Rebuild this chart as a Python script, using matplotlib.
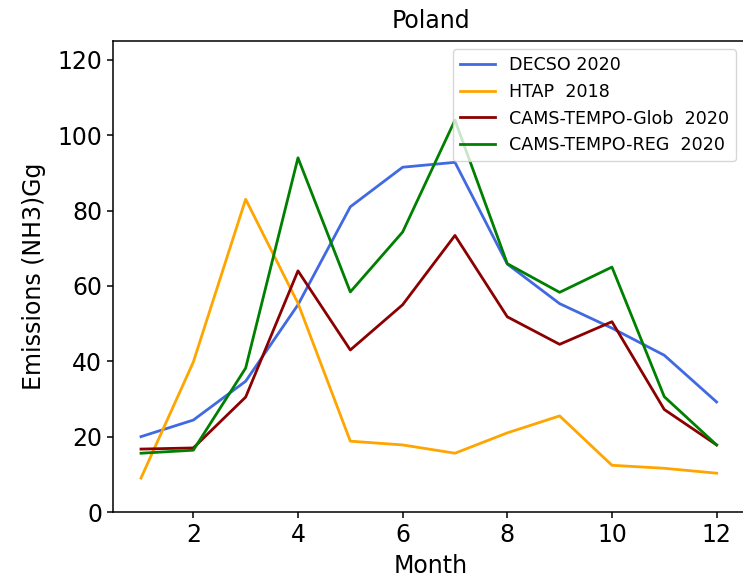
import matplotlib
matplotlib.use("Agg")
import matplotlib.pyplot as plt

months = [1, 2, 3, 4, 5, 6, 7, 8, 9, 10, 11, 12]
decso_2020 = [20.0, 24.4, 34.7, 55.0, 81.0, 91.5, 92.8, 65.8, 55.3, 48.8, 41.6, 29.2]
htap_2018 = [9.0, 39.8, 83.0, 55.4, 18.8, 17.8, 15.6, 21.0, 25.5, 12.4, 11.6, 10.3]
cams_glob_2020 = [16.7, 17.0, 30.5, 64.0, 43.0, 55.0, 73.4, 51.8, 44.5, 50.5, 27.2, 17.8]
cams_reg_2020 = [15.6, 16.4, 38.2, 94.0, 58.4, 74.3, 104.0, 65.9, 58.3, 65.0, 30.6, 17.8]

fig = plt.figure(figsize=(7.43, 5.78), dpi=100)
ax = fig.add_axes([113 / 743, 66 / 578, 635 / 743, 471 / 578])

ax.plot(months, decso_2020, color="royalblue", lw=2, label="DECSO 2020")
ax.plot(months, htap_2018, color="orange", lw=2, label="HTAP  2018")
ax.plot(months, cams_glob_2020, color="darkred", lw=2, label="CAMS-TEMPO-Glob  2020")
ax.plot(months, cams_reg_2020, color="green", lw=2, label="CAMS-TEMPO-REG  2020")

ax.set_xlim(0.465, 12.6)
ax.set_ylim(0, 125)
ax.set_xticks([2, 4, 6, 8, 10, 12])
ax.tick_params(labelsize=17, length=4.2, width=1.1)
for s in ax.spines.values():
    s.set_linewidth(1.1)
ax.set_xlabel("Month", fontsize=17, labelpad=5.5)
ax.set_ylabel("Emissions (NH3)Gg", fontsize=17, labelpad=8)
ax.set_title("Poland", fontsize=17, pad=9)
ax.legend(loc="upper right", fontsize=12.6, borderaxespad=0,
          bbox_to_anchor=(0.981, 0.983))

fig.savefig("out.png", dpi=100)
